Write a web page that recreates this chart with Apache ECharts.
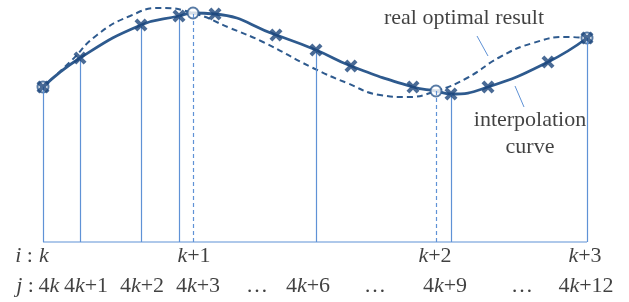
<!DOCTYPE html>
<html>
<head>
<meta charset="utf-8">
<script src="https://cdn.jsdelivr.net/npm/echarts@6/dist/echarts.min.js"></script>
<style>
  html, body { margin: 0; padding: 0; background: #fff; }
  #main { width: 629px; height: 302px; }
</style>
</head>
<body>
<div id="main"></div>
<script>
// sample points j = 4k .. 4k+12 (t = time position, v = value above baseline)
var sampleT = [0, 37, 98, 136, 172, 233, 273, 308, 370, 408, 445, 505, 544];
var sampleV = [155, 184, 217, 226, 228, 207, 192, 176, 155, 148, 155, 180, 204];
// samples with a solid vertical drop line
var dropIdx = [0, 1, 2, 3, 6, 9, 12];

// knot points i = k .. k+3 (circles)
var knotT = [0, 150, 393, 544];
var knotV = [155, 229, 151, 204];

// real optimal result (dashed curve)
var realT = [0, 27, 54, 87, 117, 150, 187, 220, 270, 304, 337, 364, 393, 424, 457, 490, 524, 544];
var realV = [155, 180, 207, 226, 234, 229, 214, 200, 174, 159, 147, 145, 151, 164, 185, 199, 205, 204];

// bottom label rows
var iLabels = ['{it|i} :', '{it|k}', '{it|k}+1', '{it|k}+2', '{it|k}+3'];
var iPos = [-19, 1, 151, 392, 542];
var jLabels = ['{it|j} :', '4{it|k}', '4{it|k}+1', '4{it|k}+2', '4{it|k}+3', '…', '4{it|k}+6', '…', '4{it|k}+9', '…', '4{it|k}+12'];
var jPos = [-18, 6, 43, 99, 155, 214, 265, 332, 402, 479, 543];

// annotations
var noteText = ['real optimal result', 'interpolation', 'curve'];
var noteT = [421, 487, 487];
var noteV = [224, 122, 95];
var leaderA = [[434, 206], [445, 186]];
var leaderB = [[472, 156], [481, 135]];

var CURVE = '#2e5a8e';
var MARK = '#1d467c';
var THIN = '#5f92d6';
var FONT = '"Liberation Serif", "Times New Roman", serif';

var xPath = 'path://M0,2.2 L2.2,0 L5,2.8 L7.8,0 L10,2.2 L7.2,5 L10,7.8 L7.8,10 L5,7.2 L2.2,10 L0,7.8 L2.8,5 Z';

function zip(a, b) {
  return a.map(function (x, i) { return [x, b[i]]; });
}

var solidPts = zip(sampleT, sampleV).concat(zip(knotT.slice(1, 3), knotV.slice(1, 3)));
solidPts.sort(function (a, b) { return a[0] - b[0]; });

var drops = dropIdx.map(function (i) {
  return [{ coord: [sampleT[i], 0] }, { coord: [sampleT[i], sampleV[i]] }];
});
var knotDrops = [1, 2].map(function (i) {
  return [{ coord: [knotT[i], 0] }, { coord: [knotT[i], knotV[i]] }];
});

var rich = {
  it: { fontStyle: 'italic', fontFamily: FONT, fontSize: 22, color: '#111' }
};

function textSeries(labels, pos, vals) {
  return {
    type: 'scatter',
    symbolSize: 1,
    itemStyle: { color: 'rgba(0,0,0,0)' },
    silent: true,
    data: labels.map(function (s, i) {
      return { name: s, value: [pos[i], Array.isArray(vals) ? vals[i] : vals] };
    }),
    label: {
      show: true,
      position: 'inside',
      formatter: function (p) { return p.name; },
      fontFamily: FONT,
      fontSize: 22,
      color: '#111',
      rich: rich
    },
    z: 5
  };
}

var chart = echarts.init(document.getElementById('main'), null, { renderer: 'canvas' });

var option = {
  animation: false,
  backgroundColor: '#fff',
  grid: { left: 0, right: 0, top: 0, bottom: 0 },
  xAxis: { type: 'value', min: -43, max: 586, show: false },
  yAxis: { type: 'value', min: -60, max: 242, show: false },
  series: [
    {
      // baseline + drop lines
      type: 'line',
      data: [[0, 0], [544, 0]],
      symbol: 'none',
      lineStyle: { color: THIN, width: 1.2 },
      z: 1,
      markLine: {
        silent: true,
        symbol: ['none', 'none'],
        label: { show: false },
        lineStyle: { color: THIN, width: 1.2, type: 'solid' },
        data: drops
      }
    },
    {
      type: 'line',
      data: [],
      z: 1,
      markLine: {
        silent: true,
        symbol: ['none', 'none'],
        label: { show: false },
        lineStyle: { color: THIN, width: 1.2, type: [4, 3] },
        data: knotDrops
      }
    },
    {
      // leader lines
      type: 'line',
      data: [],
      z: 1,
      markLine: {
        silent: true,
        symbol: ['none', 'none'],
        label: { show: false },
        lineStyle: { color: THIN, width: 1, type: 'solid' },
        data: [
          [{ coord: leaderA[0] }, { coord: leaderA[1] }],
          [{ coord: leaderB[0] }, { coord: leaderB[1] }]
        ]
      }
    },
    {
      name: 'real optimal result',
      type: 'line',
      data: zip(realT, realV),
      smooth: 0.5,
      symbol: 'none',
      lineStyle: { color: CURVE, width: 2, type: [6, 4] },
      z: 2
    },
    {
      name: 'interpolation curve',
      type: 'line',
      data: solidPts,
      smooth: 0.5,
      symbol: 'none',
      lineStyle: { color: CURVE, width: 2.8 },
      z: 3
    },
    {
      type: 'scatter',
      data: zip(knotT, knotV),
      symbol: 'emptyCircle',
      symbolSize: 11,
      itemStyle: { color: CURVE, borderWidth: 1.6 },
      z: 4
    },
    {
      type: 'scatter',
      data: zip(sampleT, sampleV),
      symbol: xPath,
      symbolSize: 13,
      itemStyle: { color: MARK },
      z: 5
    },
    textSeries(iLabels, iPos, -14),
    textSeries(jLabels, jPos, -44),
    textSeries(noteText, noteT, noteV)
  ]
};

chart.setOption(option);
</script>
</body>
</html>
